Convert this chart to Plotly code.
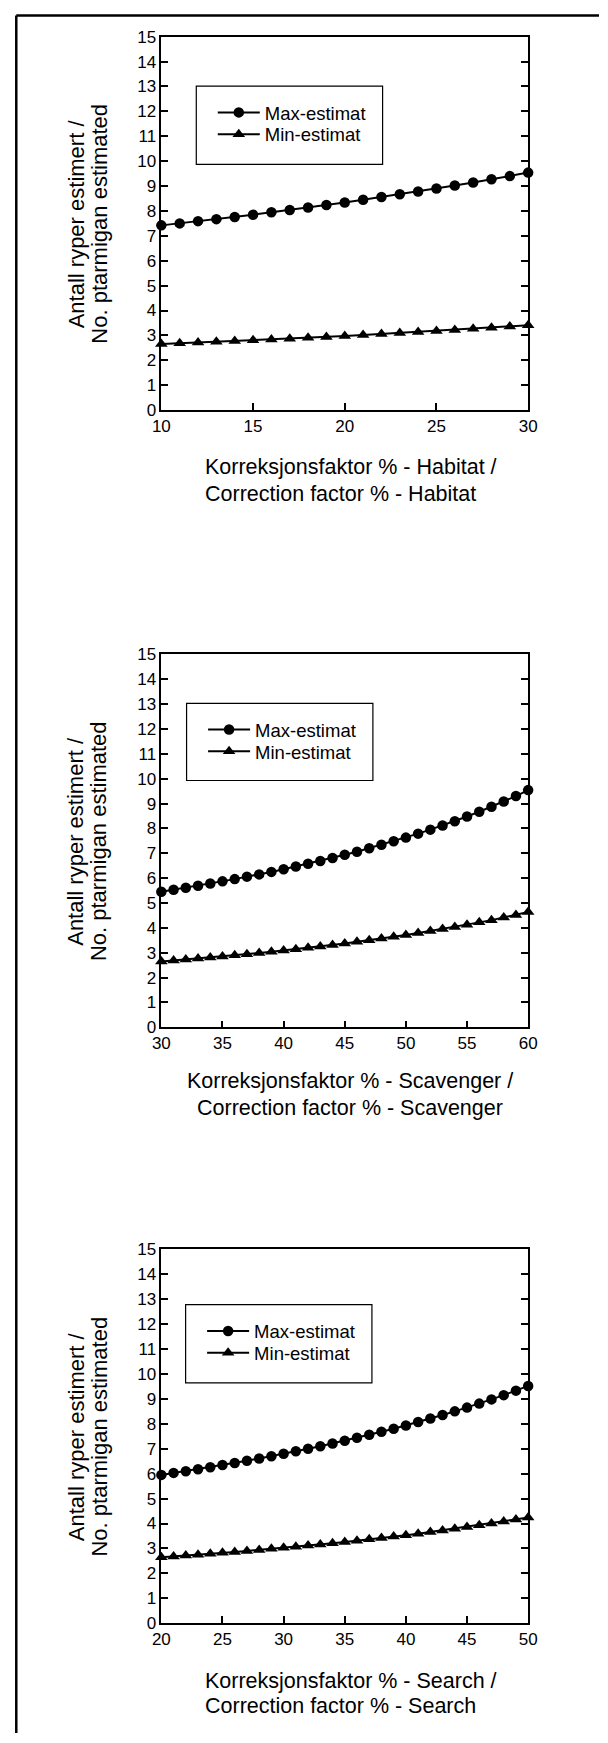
import plotly.graph_objects as go

W, H = 608, 1743
FONT = "Liberation Sans, Arial, Helvetica, sans-serif"

# ---------------- data ----------------
habitat_x = [10, 11, 12, 13, 14, 15, 16, 17, 18, 19, 20, 21, 22, 23, 24, 25, 26, 27, 28, 29, 30]
habitat_max = [7.42, 7.50, 7.59, 7.67, 7.76, 7.85, 7.95, 8.04, 8.14, 8.24, 8.34, 8.45, 8.56, 8.67,
               8.78, 8.90, 9.02, 9.14, 9.27, 9.40, 9.54]
habitat_min = [2.65, 2.68, 2.71, 2.74, 2.77, 2.81, 2.84, 2.87, 2.91, 2.94, 2.98, 3.02, 3.06, 3.10,
               3.14, 3.18, 3.22, 3.27, 3.31, 3.36, 3.41]

scav_x = [30, 31, 32, 33, 34, 35, 36, 37, 38, 39, 40, 41, 42, 43, 44, 45, 46, 47, 48, 49, 50,
          51, 52, 53, 54, 55, 56, 57, 58, 59, 60]
scav_max = [5.45, 5.53, 5.61, 5.69, 5.78, 5.87, 5.96, 6.06, 6.15, 6.25, 6.36, 6.47, 6.58, 6.69,
            6.81, 6.94, 7.06, 7.20, 7.34, 7.48, 7.63, 7.79, 7.95, 8.12, 8.29, 8.48, 8.67, 8.87,
            9.08, 9.30, 9.54]
scav_min = [2.65, 2.69, 2.73, 2.77, 2.81, 2.85, 2.90, 2.94, 2.99, 3.04, 3.09, 3.14, 3.20, 3.25,
            3.31, 3.37, 3.44, 3.50, 3.57, 3.64, 3.71, 3.79, 3.87, 3.95, 4.03, 4.12, 4.22, 4.31,
            4.42, 4.52, 4.64]

search_x = [20, 21, 22, 23, 24, 25, 26, 27, 28, 29, 30, 31, 32, 33, 34, 35, 36, 37, 38, 39, 40,
            41, 42, 43, 44, 45, 46, 47, 48, 49, 50]
search_max = [5.95, 6.03, 6.10, 6.18, 6.26, 6.35, 6.43, 6.52, 6.61, 6.70, 6.80, 6.90, 7.00, 7.10,
              7.21, 7.32, 7.44, 7.56, 7.68, 7.80, 7.93, 8.07, 8.21, 8.35, 8.50, 8.65, 8.81, 8.98,
              9.15, 9.33, 9.52]
search_min = [2.65, 2.68, 2.72, 2.75, 2.79, 2.83, 2.86, 2.90, 2.94, 2.99, 3.03, 3.07, 3.12, 3.16,
              3.21, 3.26, 3.31, 3.37, 3.42, 3.48, 3.53, 3.59, 3.66, 3.72, 3.79, 3.86, 3.93, 4.00,
              4.08, 4.16, 4.24]

series_names = ["Max-estimat", "Min-estimat"]
y_title_lines = ["Antall ryper estimert /", "No. ptarmigan estimated"]
x_titles = [
    ["Korreksjonsfaktor % - Habitat /", "Correction factor % - Habitat"],
    ["Korreksjonsfaktor % - Scavenger /", "Correction factor % - Scavenger"],
    ["Korreksjonsfaktor % - Search /", "Correction factor % - Search"],
]
x_ranges = [[10, 30], [30, 60], [20, 50]]
y_range = [0, 15]

panels = [
    (habitat_x, habitat_max, habitat_min),
    (scav_x, scav_max, scav_min),
    (search_x, search_max, search_min),
]

# ---------------- layout geometry (pixels) ----------------
PLOT_L, PLOT_R = 157, 535
panel_tops = [28, 652.5, 1254]
panel_bots = [405.5, 1029.5, 1632]
legend_boxes = [(193, 78, 385, 157), (183, 702, 375, 780), (182, 1310, 374, 1389)]
xtitle_y = [(463, 490), (1084, 1111), (1690, 1716)]


def px(x):
    return x / W


def py(y):
    return 1 - y / H


fig = go.Figure()
layout = dict(
    width=W, height=H,
    margin=dict(l=0, r=0, t=0, b=0),
    paper_bgcolor="white", plot_bgcolor="white",
    font=dict(family=FONT, color="black"),
    showlegend=True,
)
shapes = []
annotations = []

for i, (xs, ymax, ymin) in enumerate(panels):
    n = "" if i == 0 else str(i + 1)
    xa, ya = "x" + n, "y" + n
    lg_max = "legend" if i == 0 else "legend%d" % (2 * i + 1)
    lg_min = "legend%d" % (2 * i + 2)

    fig.add_trace(go.Scatter(
        x=xs, y=ymax, xaxis=xa, yaxis=ya, name=series_names[0], legend=lg_max,
        mode="lines+markers", cliponaxis=False,
        line=dict(color="black", width=2),
        marker=dict(symbol="circle", size=10.5, color="black"),
    ))
    fig.add_trace(go.Scatter(
        x=xs, y=ymin, xaxis=xa, yaxis=ya, name=series_names[1], legend=lg_min,
        mode="lines+markers", cliponaxis=False,
        line=dict(color="black", width=2),
        marker=dict(symbol="triangle-up", size=11, color="black"),
    ))

    axis_common = dict(
        showline=True, linecolor="black", linewidth=1.5,
        ticks="inside", ticklen=7, tickwidth=1.5, tickcolor="black",
        showgrid=False, zeroline=False,
        tickfont=dict(family=FONT, size=17, color="black"),
    )
    layout["xaxis" + n] = dict(
        axis_common, domain=[px(PLOT_L), px(PLOT_R)], range=x_ranges[i],
        dtick=5, tick0=0, mirror=True, anchor=ya,
    )
    layout["yaxis" + n] = dict(
        axis_common, domain=[py(panel_bots[i]), py(panel_tops[i])], range=y_range,
        dtick=1, tick0=0, mirror="ticks", anchor=xa,
    )

    # legend frames + entries
    bx0, by0, bx1, by1 = legend_boxes[i]
    shapes.append(dict(type="rect", xref="paper", yref="paper",
                       x0=px(bx0), x1=px(bx1), y0=py(by1), y1=py(by0),
                       line=dict(color="black", width=1.2), fillcolor="rgba(0,0,0,0)"))
    for lg, dy in ((lg_max, 27), (lg_min, 49)):
        layout[lg] = dict(
            x=px(bx0 + 17), y=py(by0 + dy), xanchor="left", yanchor="middle",
            xref="paper", yref="paper", itemwidth=42,
            bgcolor="rgba(0,0,0,0)", borderwidth=0,
            font=dict(family=FONT, size=18.5, color="black"),
        )

    # y-axis title (two rotated lines)
    yc = (panel_tops[i] + panel_bots[i]) / 2
    for xl, txt in zip((69, 93), y_title_lines):
        annotations.append(dict(
            text=txt, x=px(xl), y=py(yc), xref="paper", yref="paper",
            xanchor="center", yanchor="middle", textangle=-90, showarrow=False,
            font=dict(family=FONT, size=22, color="black"),
        ))

    # x-axis title (two lines)
    if i == 1:
        for yl, txt in zip(xtitle_y[i], x_titles[i]):
            annotations.append(dict(
                text=txt, x=px(351), y=py(yl), xref="paper", yref="paper",
                xanchor="center", yanchor="middle", showarrow=False,
                font=dict(family=FONT, size=21.5, color="black"),
            ))
    else:
        for yl, txt in zip(xtitle_y[i], x_titles[i]):
            annotations.append(dict(
                text=txt, x=px(200), y=py(yl), xref="paper", yref="paper",
                xanchor="left", yanchor="middle", showarrow=False,
                font=dict(family=FONT, size=21.5, color="black"),
            ))

# page frame (left and top edges of the scanned page)
shapes.append(dict(type="line", xref="paper", yref="paper",
                   x0=px(7.5), x1=px(7.5), y0=0, y1=py(6.5),
                   line=dict(color="black", width=2.5)))
shapes.append(dict(type="line", xref="paper", yref="paper",
                   x0=px(7.5), x1=1, y0=py(6.5), y1=py(6.5),
                   line=dict(color="black", width=2.5)))

layout["shapes"] = shapes
layout["annotations"] = annotations
fig.update_layout(**layout)

fig.write_html(
    "out.html",
    config={"displayModeBar": False},
    post_script="document.body.style.margin='0px';document.body.style.overflow='hidden';",
)
